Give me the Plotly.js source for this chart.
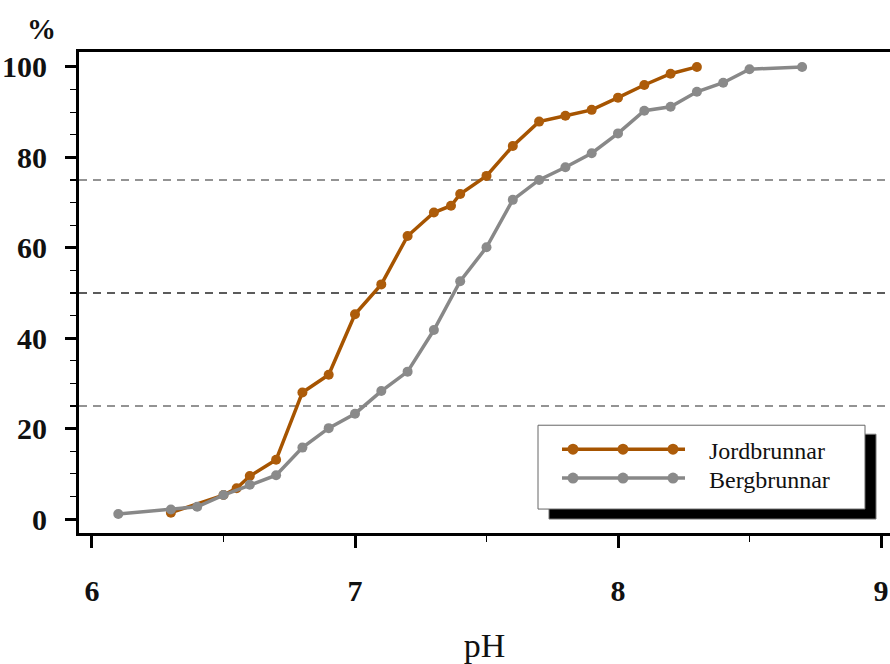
<!DOCTYPE html>
<html>
<head>
<meta charset="utf-8">
<script src="https://cdn.plot.ly/plotly-3.0.1.min.js"></script>
<style>
  html, body { margin: 0; padding: 0; background: #ffffff; }
  #chart { width: 890px; height: 664px; }
</style>
</head>
<body>
<div id="chart"></div>
<script>
// Series names
const seriesNames = ["Jordbrunnar", "Bergbrunnar"];

// Jordbrunnar (soil wells): pH vs cumulative %
const jordPH  = [6.3, 6.5, 6.55, 6.6, 6.7, 6.8, 6.9, 7.0, 7.1, 7.2, 7.3, 7.365, 7.4, 7.5, 7.6, 7.7, 7.8, 7.9, 8.0, 8.1, 8.2, 8.3];
const jordPct = [1.4, 5.3, 6.8, 9.5, 13.1, 28.0, 31.9, 45.3, 51.9, 62.6, 67.8, 69.3, 71.9, 75.9, 82.5, 87.9, 89.2, 90.5, 93.2, 96.0, 98.5, 100];

// Bergbrunnar (rock wells): pH vs cumulative %
const bergPH  = [6.1, 6.3, 6.4, 6.5, 6.6, 6.7, 6.8, 6.9, 7.0, 7.1, 7.2, 7.3, 7.4, 7.5, 7.6, 7.7, 7.8, 7.9, 8.0, 8.1, 8.2, 8.3, 8.4, 8.5, 8.7];
const bergPct = [1.1, 2.1, 2.7, 5.3, 7.6, 9.7, 15.8, 20.1, 23.3, 28.3, 32.6, 41.8, 52.6, 60.1, 70.6, 75.0, 77.8, 80.9, 85.3, 90.3, 91.2, 94.5, 96.5, 99.5, 100];

// Axis ticks and reference (quartile) lines
const xTicks = [6, 7, 8, 9];
const yTicks = [0, 20, 40, 60, 80, 100];
const refLevels = [25, 50, 75];
const refColors = ["#707070", "#262626", "#707070"];

const lineColors = ["#a65400", "#888888"];
const markerColors = ["#ad5c0a", "#8a8a8a"];
const serif = "Liberation Serif, Times New Roman, serif";

const traces = [
  {
    x: jordPH, y: jordPct, name: seriesNames[0], type: "scatter", mode: "lines+markers",
    line: { color: lineColors[0], width: 3.5 },
    marker: { color: markerColors[0], size: 10 }
  },
  {
    x: bergPH, y: bergPct, name: seriesNames[1], type: "scatter", mode: "lines+markers",
    line: { color: lineColors[1], width: 3.5 },
    marker: { color: markerColors[1], size: 10 }
  }
];

// plot area in pixels: x 79..890, y 52..533
const px = v => (v - 79) / 811;
const py = v => (533 - v) / 482;

const shapes = refLevels.map((v, i) => ({
  type: "line", xref: "paper", x0: 0, x1: 1, yref: "y", y0: v, y1: v,
  line: { color: refColors[i], width: 1.6, dash: "8px,6px" }, layer: "below"
}));

// Legend frame: drop shadow + white box (decoration)
shapes.push({
  type: "rect", xref: "paper", yref: "paper",
  x0: px(549), x1: px(876), y0: py(519), y1: py(434),
  fillcolor: "#000000", line: { color: "#777777", width: 1 }, layer: "above"
});
shapes.push({
  type: "rect", xref: "paper", yref: "paper",
  x0: px(538), x1: px(865), y0: py(509), y1: py(425),
  fillcolor: "#ffffff", line: { color: "#666666", width: 1 }, layer: "above"
});

// Legend symbols: line with three markers per series
const legendRows = [449, 478];
const legendMarkX = [573, 623, 673];
const annotations = [];
seriesNames.forEach((name, i) => {
  const yy = py(legendRows[i]);
  shapes.push({
    type: "line", xref: "paper", yref: "paper", x0: px(562), x1: px(685), y0: yy, y1: yy,
    line: { color: lineColors[i], width: 3.5 }, layer: "above"
  });
  legendMarkX.forEach(mx => {
    shapes.push({
      type: "circle", xref: "paper", yref: "paper",
      xsizemode: "pixel", ysizemode: "pixel", xanchor: px(mx), yanchor: yy,
      x0: -5.5, x1: 5.5, y0: -5.5, y1: 5.5,
      fillcolor: markerColors[i], line: { width: 0 }, layer: "above"
    });
  });
  annotations.push({
    text: name, xref: "paper", yref: "paper", x: px(707), y: py(legendRows[i] + 2),
    xanchor: "left", yanchor: "middle", showarrow: false,
    font: { family: serif, size: 24, color: "#111111" }
  });
});

annotations.push({
  text: "%", xref: "paper", yref: "paper",
  x: px(41), y: py(28), xanchor: "center", yanchor: "middle",
  showarrow: false, font: { family: serif, size: 29, color: "#111111", weight: "bold" }
});

const layout = {
  width: 890, height: 664,
  margin: { l: 79, r: 0, t: 52, b: 131, pad: 0 },
  paper_bgcolor: "#ffffff", plot_bgcolor: "#ffffff",
  font: { family: serif, color: "#111111" },
  showlegend: false,
  xaxis: {
    range: [5.9506, 9.0342], tickvals: xTicks, ticktext: xTicks.map(String),
    showgrid: false, zeroline: false,
    showline: true, linecolor: "#000000", linewidth: 3, mirror: true,
    ticks: "outside", ticklen: 12, tickwidth: 3, tickcolor: "#000000",
    ticklabelstandoff: 17,
    tickfont: { family: serif, size: 30, color: "#111111", weight: "bold" },
    minor: { dtick: 0.5, tick0: 6, ticks: "outside", ticklen: 6, tickwidth: 1.2, tickcolor: "#000000", showgrid: false },
    title: { text: "pH", font: { family: serif, size: 34, color: "#111111" }, standoff: 28 }
  },
  yaxis: {
    range: [-3.09, 103.3], tickvals: yTicks, ticktext: yTicks.map(String),
    showgrid: false, zeroline: false,
    showline: true, linecolor: "#000000", linewidth: 3, mirror: false,
    ticks: "outside", ticklen: 11, tickwidth: 3, tickcolor: "#000000",
    ticklabelstandoff: 12,
    tickfont: { family: serif, size: 30, color: "#111111", weight: "bold" },
    minor: { dtick: 5, tick0: 0, ticks: "outside", ticklen: 6, tickwidth: 1.2, tickcolor: "#000000", showgrid: false }
  },
  shapes: shapes,
  annotations: annotations
};

Plotly.newPlot("chart", traces, layout, { displayModeBar: false, staticPlot: true });
</script>
</body>
</html>
